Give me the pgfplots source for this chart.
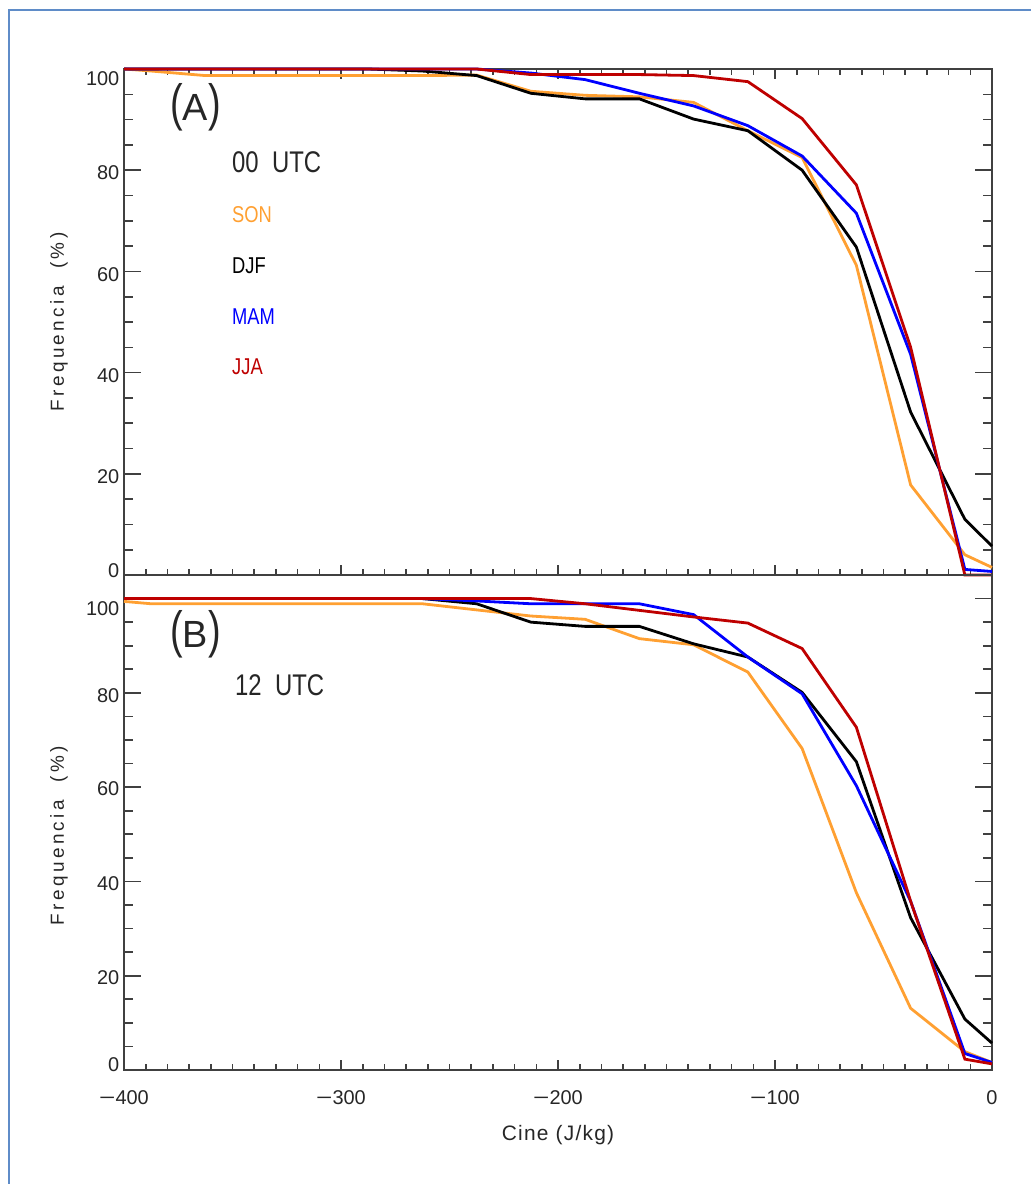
\documentclass[border=0pt]{standalone}
\usepackage{fontspec}
\setmainfont{Liberation Sans}
\newfontfamily\condfont[FakeStretch=0.8]{Liberation Sans}
\newfontfamily\yfont[LetterSpace=18]{Liberation Sans}
\newfontfamily\xfont[LetterSpace=6]{Liberation Sans}
\usepackage{pgfplots}
\pgfplotsset{compat=1.18}
\definecolor{son}{RGB}{255,160,50}
\definecolor{jja}{RGB}{190,0,0}
\definecolor{mam}{RGB}{0,0,255}
\definecolor{frame}{RGB}{95,140,200}
\newcommand\mn{\scalebox{1.4}[1]{−}}
\newcommand\yl[2]{\raisebox{#1}[0pt][0pt]{#2}}
\newcommand\panlab[1]{\scalebox{1}[1.35]{(}#1\scalebox{1}[1.35]{)}}

\pgfplotstableread{
x son djf mam jja
-400 100 100 100 100
-387.5 99.6 100 100 100
-362.5 98.7 100 100 100
-337.5 98.7 100 100 100
-312.5 98.7 100 100 100
-287.5 98.7 100 100 100
-262.5 98.7 99.6 100 100
-237.5 98.8 98.7 100 100
-212.5 95.6 95.2 99.2 98.9
-187.5 94.8 94.1 97.9 98.9
-162.5 94.5 94.1 95.2 98.9
-137.5 93.4 90.1 92.7 98.7
-112.5 87.8 87.8 88.8 97.5
-87.5 82.5 80.0 82.8 90.2
-62.5 61.2 64.8 71.5 77.1
-37.5 17.8 32.2 43.6 45.0
-12.5 4.0 11.0 1.1 0
0 1.5 5.7 0.7 0
}\dataA

\pgfplotstableread{
x son djf mam jja
-400 99.4 100 100 100
-387.5 98.9 100 100 100
-362.5 98.9 100 100 100
-337.5 98.9 100 100 100
-312.5 98.9 100 100 100
-287.5 98.9 100 100 100
-262.5 98.9 100 100 100
-237.5 97.6 98.9 99.5 100
-212.5 96.3 95.0 98.9 100
-187.5 95.6 94.1 98.9 98.9
-162.5 91.5 94.1 98.9 97.5
-137.5 90.2 90.4 96.6 96.1
-112.5 84.4 87.6 87.6 94.8
-87.5 68.2 80.1 79.8 89.4
-62.5 37.6 65.4 60.3 72.7
-37.5 13.1 32.3 35.8 35.8
-12.5 3.9 10.8 3.5 2.3
0 1.6 5.7 1.6 1.3
}\dataB

\pgfplotsset{
  base/.style={
    scale only axis, width=868bp,
    xmin=-400, xmax=0, ymin=0,
    clip=false,
    tick align=inside,
    axis line style={line width=1.8bp, black!75},
    every tick/.style={line width=1.6bp, black!75},
    /pgf/number format/assume math mode=true,
    tick label style={font=\fontsize{20}{20}\selectfont, black!85},
  },
  xpanel/.style={base,
    xtick={-400,-300,-200,-100,0},
    minor x tick num=9,
    ytick=\empty,
    major tick length=10bp, minor tick length=6bp,
    xticklabel style={yshift=-17bp},
  },
  ypanel/.style={base,
    xtick=\empty,
    ytick={0,20,40,60,80,100},
    minor y tick num=3,
    major tick length=17bp, minor tick length=9bp,
    ylabel={\yfont Frequencia\ \ (\%)},
    ylabel style={font=\fontsize{19}{19}\selectfont, black!85, anchor=center},
    line width=2.8bp,
  },
}

\begin{document}
\begin{tikzpicture}
\useasboundingbox (0,0) rectangle (1031bp,-1184bp);
\begin{scope}
\clip (0,0) rectangle (1031bp,-1184bp);
\draw[frame, line width=2.6bp] (9bp,-1200bp) -- (9bp,-10bp) -- (1050bp,-10bp);
\end{scope}

% Panel A
\begin{axis}[xpanel, at={(124bp,-69bp)}, anchor=north west, height=506bp,
  ymax=100, xticklabels={}]
\end{axis}
\begin{axis}[ypanel, at={(124bp,-69bp)}, anchor=north west, height=506bp,
  ymax=100,
  yticklabels={\yl{-2bp}{0},\yl{-10bp}{20},\yl{-10bp}{40},\yl{-10bp}{60},\yl{-9bp}{80},\yl{-16.5bp}{100}},
  ylabel style={at={(axis description cs:-0.075,0.5)}}]
\addplot[son] table[x=x,y=son] {\dataA};
\addplot[black] table[x=x,y=djf] {\dataA};
\addplot[mam] table[x=x,y=mam] {\dataA};
\addplot[jja] table[x=x,y=jja] {\dataA};
\end{axis}

% Panel B
\begin{axis}[xpanel, at={(124bp,-575bp)}, anchor=north west, height=495bp,
  ymax=105, xtick pos=bottom,
  xticklabels={\mn400,\mn300,\mn200,\mn100,0},
  xlabel={\xfont Cine\ (J/kg)},
  xlabel style={font=\fontsize{21}{21}\selectfont, black!85, at={(axis description cs:0.5,-0.131)}, anchor=center}]
\end{axis}
\begin{axis}[ypanel, at={(124bp,-575bp)}, anchor=north west, height=495bp,
  ymax=105,
  yticklabels={\yl{-1bp}{0},\yl{-8.5bp}{20},\yl{-9bp}{40},\yl{-8bp}{60},\yl{-9.5bp}{80},\yl{-17bp}{100}},
  ylabel style={at={(axis description cs:-0.075,0.473)}}]
\addplot[son] table[x=x,y=son] {\dataB};
\addplot[black] table[x=x,y=djf] {\dataB};
\addplot[mam] table[x=x,y=mam] {\dataB};
\addplot[jja] table[x=x,y=jja] {\dataB};
\end{axis}

\node[font=\fontsize{38}{38}\selectfont, black!85, anchor=base west, inner sep=0] at (170bp,-120bp) {\panlab{A}};
\node[font=\fontsize{30}{30}\selectfont\condfont, black!85, anchor=base west, inner sep=0] at (232bp,-172bp) {00\ \ UTC};
\node[font=\fontsize{23}{23}\selectfont\condfont, son, anchor=base west, inner sep=0] at (232bp,-222bp) {SON};
\node[font=\fontsize{23}{23}\selectfont\condfont, black, anchor=base west, inner sep=0] at (232bp,-273bp) {DJF};
\node[font=\fontsize{23}{23}\selectfont\condfont, mam, anchor=base west, inner sep=0] at (232bp,-324bp) {MAM};
\node[font=\fontsize{23}{23}\selectfont\condfont, jja, anchor=base west, inner sep=0] at (232bp,-374bp) {JJA};
\node[font=\fontsize{38}{38}\selectfont, black!85, anchor=base west, inner sep=0] at (170bp,-647bp) {\panlab{B}};
\node[font=\fontsize{30}{30}\selectfont\condfont, black!85, anchor=base west, inner sep=0] at (235bp,-695bp) {12\ \ UTC};
\end{tikzpicture}
\end{document}
